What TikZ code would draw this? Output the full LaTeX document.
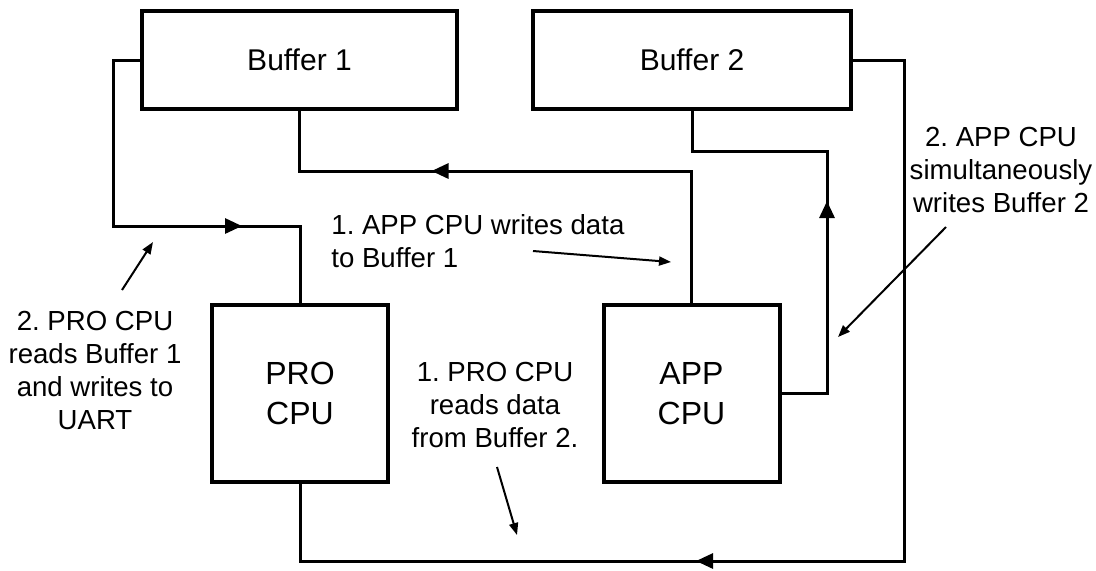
\documentclass[tikz,border=0pt]{standalone}
\usepackage{fontspec}
\setmainfont{Liberation Sans}
\usepackage{tikz}
\usetikzlibrary{arrows.meta, decorations.markings}
\frenchspacing

\begin{document}
\begin{tikzpicture}[x=0.5pt, y=-0.5pt,
		block/.style={draw, line width=2pt, inner sep=0pt, font=\fontsize{15pt}{18pt}\selectfont},
		buffer/.style={block, minimum width=157.5pt, minimum height=49pt},
		cpu/.style={block, minimum width=88pt, minimum height=88.5pt, align=center, font=\fontsize{16pt}{20pt}\selectfont},
		note/.style={align=center, inner sep=0pt, font=\fontsize{13.8pt}{16.5pt}\selectfont},
		flowarrow/.style={line width=1.5pt, postaction={decorate},
			decoration={markings, mark=at position #1 with {\arrow{Triangle[length=8.5pt, width=7.5pt]}}}},
		pointer/.style={line width=1pt, -{Triangle[length=6pt, width=4.5pt]}}]
			\useasboundingbox (0,0) rectangle (1096,570);
			\node[buffer] (buf1) at (299.5,60) {Buffer 1};
			\node[buffer, minimum width=159pt] (buf2) at (692,60) {Buffer 2};
			\node[cpu] (pro) at (300,393.5) {PRO\\CPU};
			\node[cpu] (app) at (691.5,393.5) {APP\\CPU};
			\coordinate (bendA) at (113,226);
			\coordinate (bendB) at (827,151);
			\coordinate (bendC) at (904,561);
			\draw[flowarrow=161pt] (buf1.west) -| (bendA) -| (pro.north);
			\draw[flowarrow=196pt] (app.north) -- ++(0,-132) -| (buf1.south);
			\draw[flowarrow=119pt] (app.east) -| (bendB) -| (buf2.south);
			\draw[flowarrow=380pt] (buf2.east) -| (bendC) -| (pro.south);
			\node[note, align=left, anchor=west] (noteA) at (331,241) {1. APP CPU writes data\\to Buffer 1};
			\node[note] (noteB) at (1001,170) {2. APP CPU\\simultaneously\\writes Buffer 2};
			\node[note] (noteC) at (95,370) {2. PRO CPU\\reads Buffer 1\\and writes to\\UART};
			\node[note] (noteD) at (495,405) {1. PRO CPU\\reads data\\from Buffer 2.};
			\coordinate (tailA) at (533,251);
			\coordinate (tipA) at (671,262);
			\coordinate (tailB) at (946,227);
			\coordinate (tipB) at (838,337);
			\coordinate (tailC) at (122,290);
			\coordinate (tipC) at (153,242);
			\coordinate (tailD) at (497,467);
			\coordinate (tipD) at (517,535);
			\draw[pointer] (tailA) -- (tipA);
			\draw[pointer] (tailB) -- (tipB);
			\draw[pointer] (tailC) -- (tipC);
			\draw[pointer] (tailD) -- (tipD);
		\end{tikzpicture}
\end{document}
